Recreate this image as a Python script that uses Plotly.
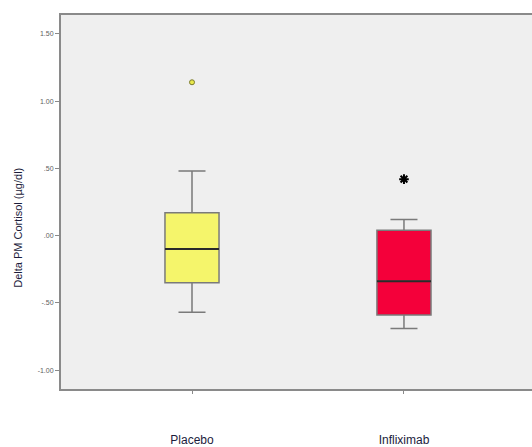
import plotly.graph_objects as go

groups = ["Placebo", "Infliximab"]
q1 = [-0.35, -0.59]
medians = [-0.10, -0.34]
q3 = [0.17, 0.04]
lower_whisker = [-0.57, -0.69]
upper_whisker = [0.48, 0.12]
outliers = [[1.14], [0.42]]
fills = ["#f5f56b", "#f4003a"]
ytick_vals = [1.5, 1.0, 0.5, 0.0, -0.5, -1.0]
ytick_text = ["1.50", "1.00", ".50", ".00", "-.50", "-1.00"]

pos = list(range(len(groups)))
box_w = 0.255

fig = go.Figure()
for i, g in enumerate(groups):
    fig.add_trace(go.Box(
        x=[pos[i]], q1=[q1[i]], median=[medians[i]], q3=[q3[i]],
        lowerfence=[lower_whisker[i]], upperfence=[upper_whisker[i]],
        width=box_w, whiskerwidth=0.5, fillcolor=fills[i],
        line=dict(color="#7a7a7a", width=1.5), boxpoints=False,
        showlegend=False, hoverinfo="skip"))
    fig.add_trace(go.Scatter(
        x=[pos[i] - box_w / 2, pos[i] + box_w / 2], y=[medians[i], medians[i]],
        mode="lines", line=dict(color="#2a2a2a", width=2), showlegend=False))

fig.add_trace(go.Scatter(
    x=[pos[0]] * len(outliers[0]), y=outliers[0], mode="markers",
    marker=dict(symbol="circle", size=5, color="#e8e84a",
                line=dict(color="#7a7a30", width=1)), showlegend=False))
fig.add_trace(go.Scatter(
    x=[pos[1]] * len(outliers[1]), y=outliers[1], mode="markers",
    marker=dict(symbol="asterisk-open", size=8, color="#000000",
                line=dict(color="#000000", width=2)), showlegend=False))

fig.update_layout(
    width=532, height=447,
    margin=dict(l=61, r=0, t=15, b=54),
    paper_bgcolor="white", plot_bgcolor="#efefef",
    font=dict(family="Liberation Sans, Arial, sans-serif"),
    xaxis=dict(range=[-0.618, 1.604], tickvals=pos, ticktext=groups,
               showgrid=False, zeroline=False, showline=True, mirror=True,
               linecolor="#8a8a8a", linewidth=2, ticks="outside", ticklen=3,
               tickcolor="#8a8a8a", ticklabelstandoff=36,
               tickfont=dict(size=12, color="#1c1c3c")),
    yaxis=dict(range=[-1.14, 1.64], tickvals=ytick_vals, ticktext=ytick_text,
               showgrid=False, zeroline=False, showline=True,
               linecolor="#8a8a8a", linewidth=2, ticks="outside", ticklen=4,
               tickcolor="#8a8a8a", tickfont=dict(size=7, color="#606060")),
    annotations=[dict(text="Delta PM Cortisol (µg/dl)", textangle=-90,
                      xref="paper", yref="paper", x=-0.09, y=0.43,
                      xanchor="center", yanchor="middle", showarrow=False,
                      font=dict(size=11, color="#1c1c3c"))],
)

fig.write_html("out.html")
